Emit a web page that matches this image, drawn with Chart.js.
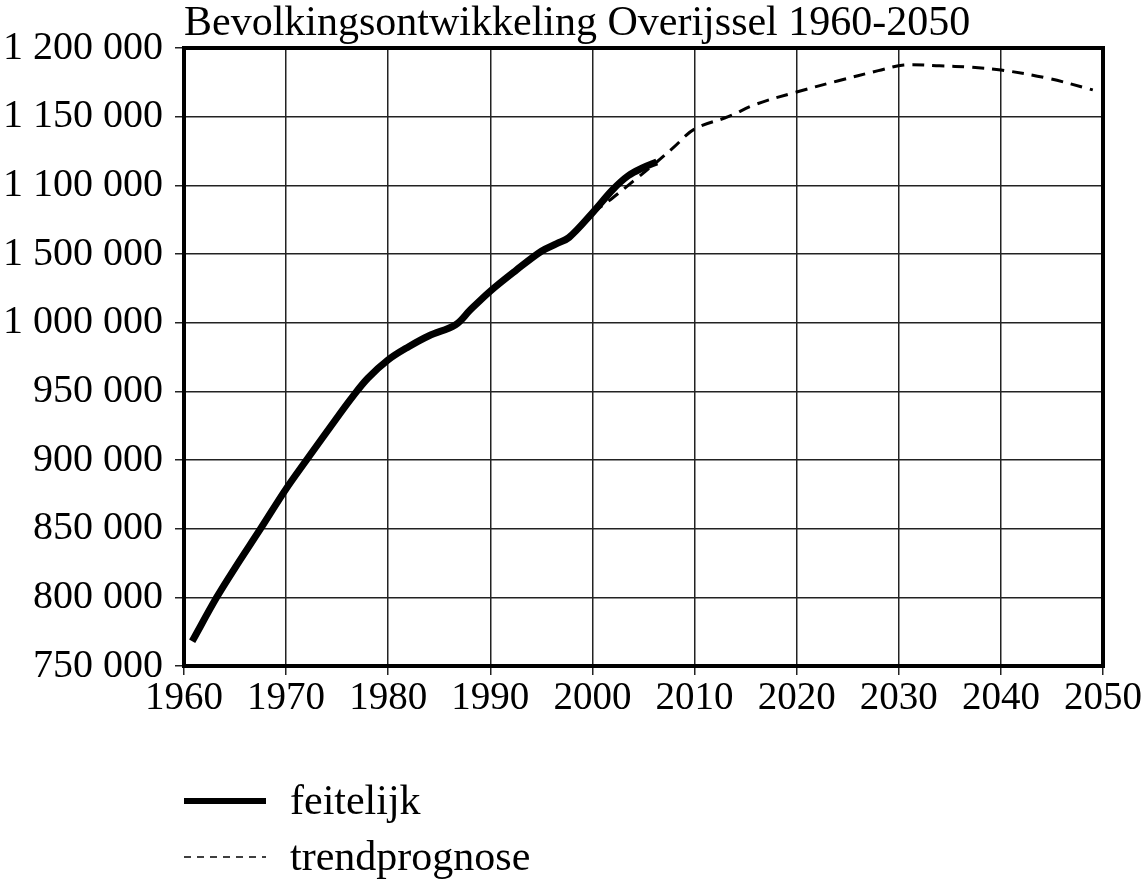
<!DOCTYPE html>
<html>
<head>
<style>
  body { margin: 0; background: #fff; }
  .canvas-hold { position: relative; width: 1145px; height: 881px; }
</style>
</head>
<body>
<div class="canvas-hold"><canvas id="chart"></canvas></div>
<script src="https://cdn.jsdelivr.net/npm/chart.js@4/dist/chart.umd.min.js"></script>
<script>
// feitelijk (actual) population
const actualYears  = [1960.8, 1963.2, 1965, 1967.5, 1970, 1972, 1975, 1976.5, 1978, 1980, 1982, 1984, 1986.6, 1988, 1990, 1992.5, 1995, 1996.5, 1997.7, 2000, 2002, 2003.5, 2005, 2006.3];
const actualValues = [768000, 800000, 821500, 850000, 879000, 900000, 931000, 946000, 959500, 973000, 982500, 990500, 998500, 1009000, 1023000, 1038000, 1052000, 1057500, 1062000, 1080000, 1097000, 1107000, 1113000, 1117000];
// trendprognose
const trendYears  = [2000, 2002, 2004, 2006.3, 2008, 2010, 2013.3, 2016, 2020, 2024, 2028, 2030.5, 2034, 2037, 2040, 2044.6, 2049];
const trendValues = [1080000, 1091000, 1103000, 1117000, 1128000, 1141000, 1150000, 1159000, 1168000, 1176000, 1183500, 1187600, 1187000, 1186000, 1184000, 1178000, 1169500];
const yTickLabels = ['750 000', '800 000', '850 000', '900 000', '950 000', '1 000 000', '1 500 000', '1 100 000', '1 150 000', '1 200 000'];
const seriesNames = ['feitelijk', 'trendprognose'];

const serif = "'Liberation Serif', 'Times New Roman', serif";
Chart.defaults.font.family = serif;
Chart.defaults.color = '#000';

function toPoints(xs, ys) {
  return xs.map((x, i) => ({ x: x, y: ys[i] }));
}

// top + right frame, and the legend below the axis
const extras = {
  id: 'extras',
  afterDraw(chart) {
    const ctx = chart.ctx, a = chart.chartArea;
    ctx.save();
    ctx.strokeStyle = '#000';
    ctx.lineWidth = 4;
    ctx.strokeRect(a.left, a.top, a.right - a.left, a.bottom - a.top);
    chart.data.datasets.forEach((ds, i) => {
      const y = 801 + i * 56;
      ctx.beginPath();
      ctx.lineWidth = i === 0 ? 6 : 1.6;
      ctx.setLineDash(i === 0 ? [] : [7, 6]);
      ctx.moveTo(184, y);
      ctx.lineTo(266, y);
      ctx.stroke();
      ctx.setLineDash([]);
      ctx.fillStyle = '#000';
      ctx.font = '42px ' + serif;
      ctx.textBaseline = 'middle';
      ctx.fillText(ds.label, 290, y + 2);
    });
    ctx.restore();
  }
};

new Chart(document.getElementById('chart').getContext('2d'), {
  type: 'line',
  data: {
    datasets: [{
      label: seriesNames[0],
      data: toPoints(actualYears, actualValues),
      borderColor: '#000',
      borderWidth: 7,
      pointRadius: 0,
      tension: 0.35,
      borderCapStyle: 'butt'
    }, {
      label: seriesNames[1],
      data: toPoints(trendYears, trendValues),
      borderColor: '#000',
      borderWidth: 3,
      borderDash: [12, 8],
      pointRadius: 0,
      tension: 0.35
    }]
  },
  options: {
    responsive: true,
    maintainAspectRatio: false,
    animation: false,
    layout: { padding: { left: 0, right: 42, top: 0, bottom: 0 } },
    plugins: {
      legend: { display: false },
      tooltip: { enabled: false },
      title: {
        display: true,
        text: 'Bevolkingsontwikkeling Overijssel 1960-2050',
        align: 'start',
        fullSize: false,
        color: '#000',
        font: { size: 42, weight: 'normal', family: serif, lineHeight: 1.0 },
        padding: { top: 3, bottom: 3 }
      }
    },
    scales: {
      x: {
        type: 'linear',
        min: 1960,
        max: 2050,
        afterFit(s) { s.height = 215; },
        ticks: { stepSize: 10, padding: 0, font: { size: 39 }, maxRotation: 0, callback: v => String(v) },
        grid: { color: '#222', lineWidth: 1.5, tickLength: 9 },
        border: { color: '#000', width: 4 }
      },
      y: {
        min: 750000,
        max: 1200000,
        afterFit(s) { s.width = 184; },
        ticks: { stepSize: 50000, padding: 12, font: { size: 40 }, callback: (v, i) => yTickLabels[i] },
        grid: { color: '#222', lineWidth: 1.5, tickLength: 9 },
        border: { color: '#000', width: 4 }
      }
    }
  },
  plugins: [extras]
});
</script>
</body>
</html>
